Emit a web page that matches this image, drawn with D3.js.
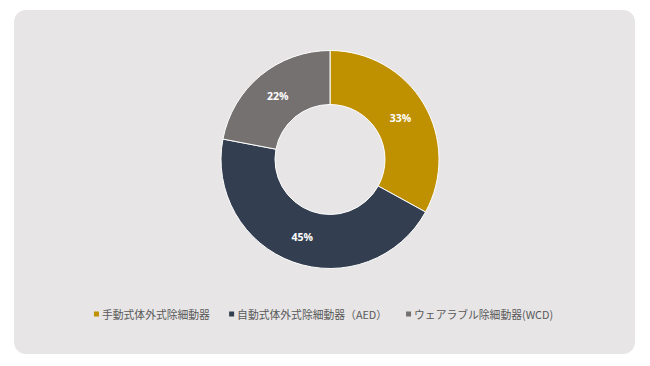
<!DOCTYPE html>
<html>
<head>
<meta charset="utf-8">
<script src="https://cdn.jsdelivr.net/npm/d3@7"></script>
<style>
  body { margin: 0; background: #ffffff; }
  svg { display: block; }
</style>
</head>
<body>
<svg id="chart" width="650" height="366"></svg>
<script>
const categories = ["手動式体外式除細動器", "自動式体外式除細動器（AED）", "ウェアラブル除細動器(WCD)"];
const shares = [33, 45, 22];
const colors = ["#bf9000", "#333f50", "#767171"];

const svg = d3.select("#chart");

// panel background
svg.append("rect")
  .attr("x", 14).attr("y", 10)
  .attr("width", 621).attr("height", 344)
  .attr("rx", 12).attr("ry", 12)
  .attr("fill", "#e7e5e6");

const cx = 330, cy = 159.5;
const outerR = 109, innerR = 55;

const data = categories.map((c, i) => ({ name: c, value: shares[i], color: colors[i] }));

const pie = d3.pie().sort(null).value(d => d.value);
const arc = d3.arc().innerRadius(innerR).outerRadius(outerR);

const g = svg.append("g").attr("transform", "translate(" + cx + "," + cy + ")");

g.selectAll("path")
  .data(pie(data))
  .enter()
  .append("path")
  .attr("d", arc)
  .attr("fill", d => d.data.color)
  .attr("stroke", "#ffffff")
  .attr("stroke-width", 1);

g.selectAll("text")
  .data(pie(data))
  .enter()
  .append("text")
  .attr("transform", d => "translate(" + arc.centroid(d) + ")")
  .attr("text-anchor", "middle")
  .attr("dominant-baseline", "central")
  .attr("font-family", "'Open Sans', sans-serif")
  .attr("font-weight", "bold")
  .attr("font-size", 10.5)
  .attr("fill", "#ffffff")
  .text(d => d.data.value + "%");

// legend
const legend = svg.append("g");
const items = legend.selectAll("g")
  .data(data)
  .enter()
  .append("g");

items.append("rect")
  .attr("width", 5).attr("height", 5)
  .attr("y", -2.5)
  .attr("fill", d => d.color);

items.append("text")
  .attr("x", 8)
  .attr("dominant-baseline", "central")
  .attr("font-family", "'Noto Sans CJK JP', 'Open Sans', sans-serif")
  .attr("font-size", 10.8)
  .attr("fill", "#595959")
  .text(d => d.name);

let xPos = 0;
const gap = 19;
items.each(function () {
  const w = this.getBBox().width;
  d3.select(this).attr("transform", "translate(" + xPos + ",0)");
  xPos += w + gap;
});
const totalW = xPos - gap;
legend.attr("transform", "translate(" + (323.5 - totalW / 2) + ",314)");
</script>
</body>
</html>
